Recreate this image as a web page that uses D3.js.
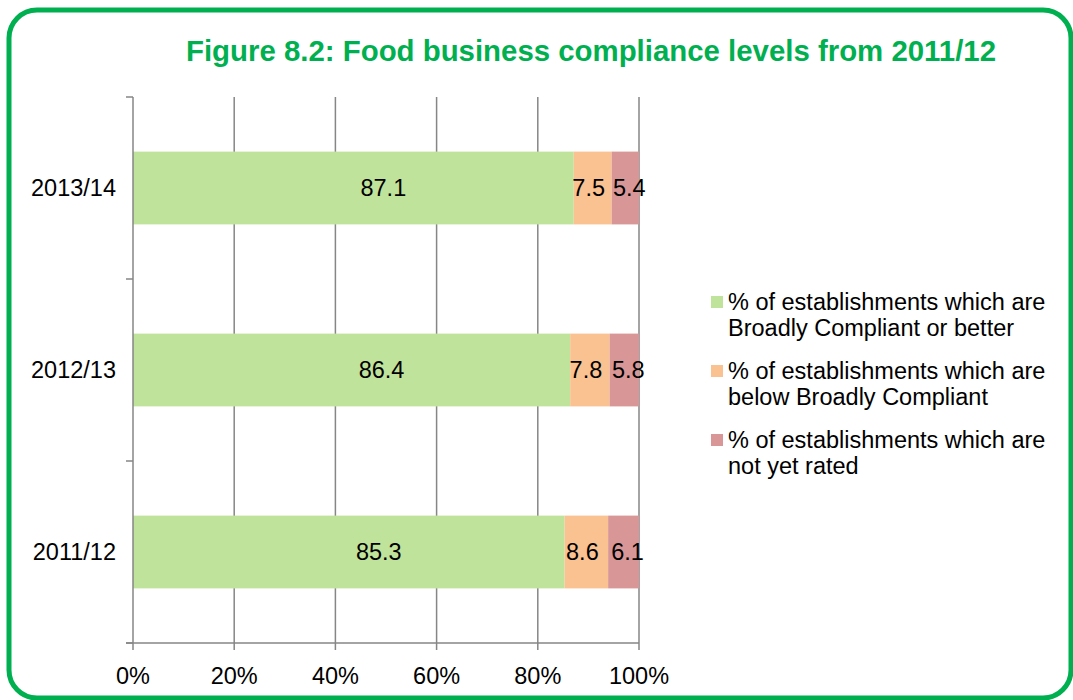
<!DOCTYPE html>
<html>
<head>
<meta charset="utf-8">
<script src="https://d3js.org/d3.v7.min.js"></script>
<style>
body { margin: 0; background: #fff; }
.chart { font-family: Arial, 'Liberation Sans', sans-serif; }
</style>
</head>
<body>
<div class="chart"></div>
<script>
// data
const years = ["2013/14", "2012/13", "2011/12"];
const compliant = [87.1, 86.4, 85.3];
const belowCompliant = [7.5, 7.8, 8.6];
const notRated = [5.4, 5.8, 6.1];
const seriesNames = [
  ["% of establishments which are", "Broadly Compliant or better"],
  ["% of establishments which are", "below Broadly Compliant"],
  ["% of establishments which are", "not yet rated"]
];
const colors = ["#c0e39b", "#fac191", "#d99696"];
const xTicks = [0, 20, 40, 60, 80, 100];

const width = 1073, height = 700;
const plot = {left: 133, right: 639, top: 97, bottom: 643};
const fs = "23.5px";

const svg = d3.select(".chart").append("svg")
  .attr("width", width)
  .attr("height", height);

// green frame
svg.append("rect")
  .attr("x", 9).attr("y", 10)
  .attr("width", 1062).attr("height", 688)
  .attr("rx", 28).attr("ry", 28)
  .attr("fill", "none")
  .attr("stroke", "#00b050")
  .attr("stroke-width", 5);

svg.append("text")
  .attr("x", 591).attr("y", 61)
  .attr("text-anchor", "middle")
  .attr("fill", "#00b050")
  .style("font-size", "29px")
  .style("font-weight", "bold")
  .attr("textLength", 810)
  .attr("lengthAdjust", "spacingAndGlyphs")
  .text("Figure 8.2: Food business compliance levels from 2011/12");

const x = d3.scaleLinear().domain([0, 100]).range([plot.left, plot.right]);
const y = d3.scaleBand().domain(years).range([plot.top, plot.bottom]).paddingInner(0.6).paddingOuter(0.3);
const yEdges = d3.scaleLinear().domain([0, years.length]).range([plot.top, plot.bottom]);

// vertical gridlines
svg.append("g").selectAll("line")
  .data(xTicks.slice(1))
  .join("line")
  .attr("x1", d => x(d)).attr("x2", d => x(d))
  .attr("y1", plot.top).attr("y2", plot.bottom + 7)
  .attr("stroke", "#868686").attr("stroke-width", 1.5);

// stacked bars
const stack = d3.stack().keys([0, 1, 2]);
const rows = years.map((yr, i) => ({year: yr, 0: compliant[i], 1: belowCompliant[i], 2: notRated[i]}));
const layers = stack(rows);

layers.forEach((layer, k) => {
  svg.append("g").selectAll("rect")
    .data(layer)
    .join("rect")
    .attr("x", d => x(d[0]))
    .attr("y", d => y(d.data.year))
    .attr("width", d => x(d[1]) - x(d[0]))
    .attr("height", y.bandwidth())
    .attr("fill", colors[k]);
});

// value labels
const labelShift = [30, -4, 4];
layers.forEach((layer, k) => {
  svg.append("g").selectAll("text")
    .data(layer)
    .join("text")
    .attr("x", d => (x(d[0]) + x(d[1])) / 2 + labelShift[k])
    .attr("y", d => y(d.data.year) + y.bandwidth() / 2 + 8)
    .attr("text-anchor", "middle")
    .style("font-size", fs)
    .attr("fill", "#000")
    .text(d => d.data[k].toFixed(1));
});

// y axis line and ticks
svg.append("line")
  .attr("x1", plot.left).attr("x2", plot.left)
  .attr("y1", plot.top).attr("y2", plot.bottom)
  .attr("stroke", "#868686").attr("stroke-width", 1.5);
svg.append("g").selectAll("line")
  .data(d3.range(years.length + 1))
  .join("line")
  .attr("x1", plot.left - 7).attr("x2", plot.left)
  .attr("y1", d => yEdges(d)).attr("y2", d => yEdges(d))
  .attr("stroke", "#868686").attr("stroke-width", 1.5);

// x axis line
svg.append("line")
  .attr("x1", plot.left - 7).attr("x2", plot.right)
  .attr("y1", plot.bottom).attr("y2", plot.bottom)
  .attr("stroke", "#868686").attr("stroke-width", 1.5);
svg.append("line")
  .attr("x1", plot.left).attr("x2", plot.left)
  .attr("y1", plot.bottom).attr("y2", plot.bottom + 7)
  .attr("stroke", "#868686").attr("stroke-width", 1.5);

// x tick labels
svg.append("g").selectAll("text")
  .data(xTicks)
  .join("text")
  .attr("x", d => x(d))
  .attr("y", 684)
  .attr("text-anchor", "middle")
  .style("font-size", fs)
  .text(d => d + "%");

// y category labels
svg.append("g").selectAll("text")
  .data(years)
  .join("text")
  .attr("x", 116)
  .attr("y", d => y(d) + y.bandwidth() / 2 + 8)
  .attr("text-anchor", "end")
  .style("font-size", fs)
  .text(d => d);

// legend
const legend = svg.append("g").selectAll("g")
  .data(seriesNames)
  .join("g")
  .attr("transform", (d, i) => `translate(711, ${310 + i * 69})`);
legend.append("rect")
  .attr("x", 0).attr("y", -14)
  .attr("width", 12).attr("height", 12)
  .attr("fill", (d, i) => colors[i]);
legend.selectAll("text")
  .data(d => d)
  .join("text")
  .attr("x", 17)
  .attr("y", (d, j) => j * 26)
  .style("font-size", fs)
  .text(d => d);
</script>
</body>
</html>
